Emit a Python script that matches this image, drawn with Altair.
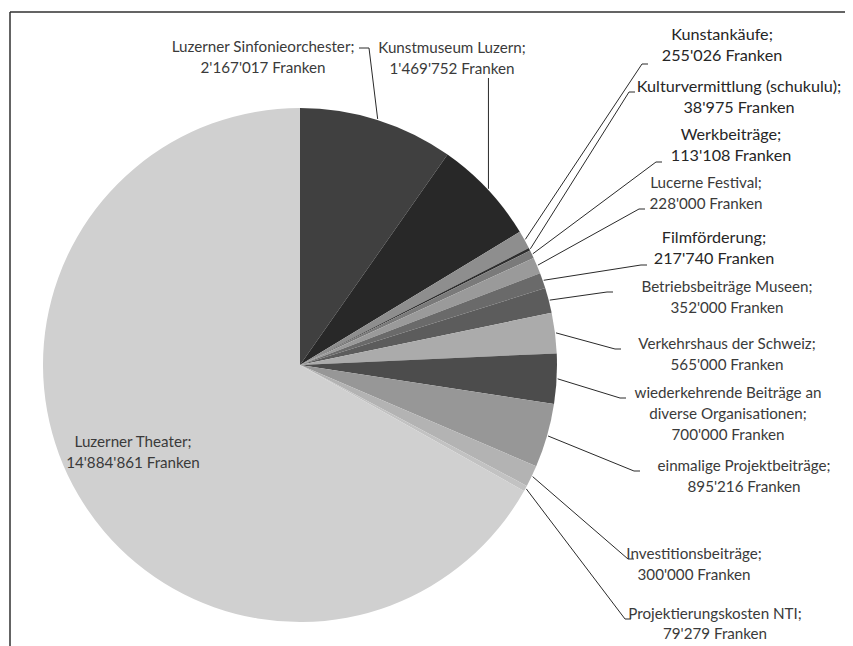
import altair as alt
import pandas as pd
import numpy as np

# ---------------- data ----------------
categories = [
    "Luzerner Sinfonieorchester", "Kunstmuseum Luzern", "Kunstankäufe",
    "Kulturvermittlung (schukulu)", "Werkbeiträge", "Lucerne Festival",
    "Filmförderung", "Betriebsbeiträge Museen", "Verkehrshaus der Schweiz",
    "wiederkehrende Beiträge an diverse Organisationen",
    "einmalige Projektbeiträge", "Investitionsbeiträge",
    "Projektierungskosten NTI", "Luzerner Theater",
]
values = [2167017, 1469752, 255026, 38975, 113108, 228000, 217740,
          352000, 565000, 700000, 895216, 300000, 79279, 14884861]
# how the category name is broken into label lines
name_lines = [
    ["Luzerner Sinfonieorchester;"], ["Kunstmuseum Luzern;"], ["Kunstankäufe;"],
    ["Kulturvermittlung (schukulu);"], ["Werkbeiträge;"], ["Lucerne Festival;"],
    ["Filmförderung;"], ["Betriebsbeiträge Museen;"], ["Verkehrshaus der Schweiz;"],
    ["wiederkehrende Beiträge an", "diverse Organisationen;"],
    ["einmalige Projektbeiträge;"], ["Investitionsbeiträge;"],
    ["Projektierungskosten NTI;"], ["Luzerner Theater;"],
]

# ---------------- styles / layout ----------------
colors = ["#404040", "#282828", "#8e8e8e", "#2e2e2e", "#7a7a7a", "#9a9a9a",
          "#6a6a6a", "#5c5c5c", "#ababab", "#4c4c4c", "#979797", "#b3b3b3",
          "#c2c2c2", "#d0d0d0"]
CX, CY, R = 300, 365, 257          # pie centre / radius (page pixels)
OFF = 8                             # page margin
W, H = 837, 638
# label block: centre x, y of first line, line spacing
label_cx = [263, 452, 722, 739, 731, 706, 714, 727, 727, 728, 744, 694, 715, 133]
label_y0 = [47, 48, 35, 87, 135, 183, 238, 287, 344, 393, 466, 554, 614, 442]
line_gap = 21
big = [False, False, True, True, True, False, True, False, False, False, False, False, False, False]
# leader anchor (end of the line at the label) and tick direction
anchor_x = [369, 489, 642, 629, 656, 639, 641, 607, 615, 620, 634, 628, 625, None]
anchor_y = [48, 78, 64, 92, 162, 209, 265, 292, 349, 398, 471, 559, 619, None]
tick_dx = [-10, 0, 6, 6, 6, 6, 6, 6, 6, 6, 6, 6, 6, 0]

# ---------------- derived tables ----------------
vals = np.array(values, dtype=float)
cum = np.cumsum(vals)
mid = (cum - vals / 2) / vals.sum() * 2 * np.pi

pie_df = pd.DataFrame({"cat": categories, "value": values,
                       "order": list(range(len(values)))})

def fmt(v):
    return f"{v:,}".replace(",", "'") + " Franken"

txt_rows = []
for i, cat in enumerate(categories):
    lines = name_lines[i] + [fmt(values[i])]
    for j, t in enumerate(lines):
        txt_rows.append({
            "x": label_cx[i], "y": label_y0[i] + j * (20 if i == 12 else line_gap), "text": t,
            "size": 16.2 if big[i] else 15.2,
            "color": "#262626" if big[i] else "#3a3a3a",
        })
txt_df = pd.DataFrame(txt_rows)

seg_rows = []
for i in range(len(categories)):
    if anchor_x[i] is None:
        continue
    sx = CX + (R + 1) * np.sin(mid[i])
    sy = CY - (R + 1) * np.cos(mid[i])
    ax, ay = anchor_x[i], anchor_y[i]
    if i == 1:
        ax = sx
    seg_rows.append({"x": sx, "y": sy, "x2": ax, "y2": ay})
    if tick_dx[i] != 0:
        seg_rows.append({"x": ax, "y": ay, "x2": ax + tick_dx[i], "y2": ay})
seg_df = pd.DataFrame(seg_rows)

frame_df = pd.DataFrame({"x": [10, 10], "y": [12, 12], "x2": [853, 10], "y2": [12, 646]})

xs = alt.Scale(domain=[OFF, OFF + W], nice=False, zero=False)
ys = alt.Scale(domain=[OFF, OFF + H], nice=False, zero=False, reverse=True)

pie = alt.Chart(pie_df).mark_arc(radius=R).encode(
    theta=alt.Theta("value:Q", stack=True),
    order=alt.Order("order:Q"),
    color=alt.Color("cat:N", scale=alt.Scale(domain=categories, range=colors), legend=None),
    x=alt.value(CX - OFF),
    y=alt.value(CY - OFF),
)

segs = alt.Chart(seg_df).mark_rule(color="#2a2a2a", strokeWidth=1).encode(
    x=alt.X("x:Q", scale=xs, axis=None),
    y=alt.Y("y:Q", scale=ys, axis=None),
    x2="x2:Q", y2="y2:Q",
)

frame = alt.Chart(frame_df).mark_rule(color="#303030", strokeWidth=1.5).encode(
    x=alt.X("x:Q", scale=xs, axis=None),
    y=alt.Y("y:Q", scale=ys, axis=None),
    x2="x2:Q", y2="y2:Q",
)

texts = alt.Chart(txt_df).mark_text(font="Lato", align="center", baseline="middle").encode(
    x=alt.X("x:Q", scale=xs, axis=None),
    y=alt.Y("y:Q", scale=ys, axis=None),
    text="text:N",
    size=alt.Size("size:Q", scale=None),
    color=alt.Color("color:N", scale=None),
)

chart = alt.layer(frame, pie, segs, texts).properties(
    width=W, height=H, padding=0, autosize=alt.AutoSizeParams(type="none"),
    background="white",
).configure_view(stroke=None)

chart.save("out.html", embed_options={"renderer": "svg", "actions": False})
